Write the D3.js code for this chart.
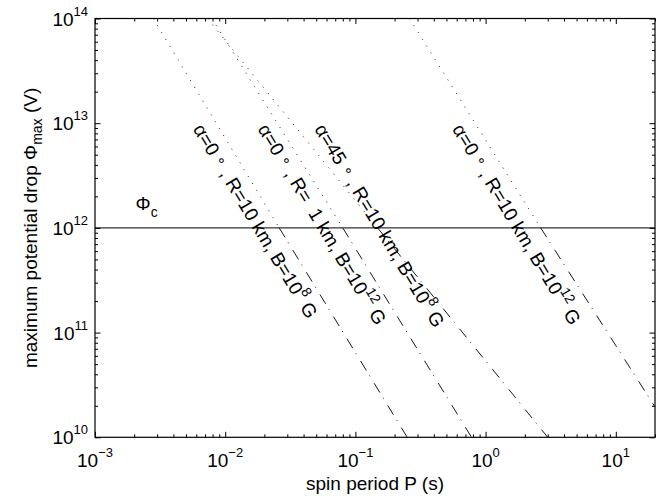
<!doctype html>
<html>
<head>
<meta charset="utf-8">
<title>potential drop</title>
<script src="https://d3js.org/d3.v7.min.js"></script>
<style>
  body { margin: 0; background: #fff; }
  text { font-family: "Liberation Sans", Arial, sans-serif; fill: #000; }
  .tick-label { font-size: 19px; }
  .axis-title { font-size: 19px; }
  .curve-label { font-size: 19px; white-space: pre; }
</style>
</head>
<body>
<script>

// axis ranges and ticks
var periodDomain = [1e-3, 20];
var phiDomain = [1e10, 1e14];
var periodTicks = [1e-3, 1e-2, 1e-1, 1, 10];
var periodExponents = ['\u22123', '\u22122', '\u22121', '0', '1'];
var phiTicks = [1e10, 1e11, 1e12, 1e13, 1e14];
var phiExponents = ['10', '11', '12', '13', '14'];

// critical potential drop
var phiCrit = 1e12;

// curves: period P (s) at given potential drops (V)
var periodA = [0.0028, 0.026, 0.25];   // alpha=0, R=10 km, B=1e8 G
var phiA    = [1e14, 1e12, 1e10];
var periodB = [0.0079, 0.080, 0.78];   // alpha=0, R=1 km, B=1e12 G
var phiB    = [1e14, 1e12, 1e10];
var periodC = [0.0073, 0.148, 3.0];    // alpha=45, R=10 km, B=1e8 G
var phiC    = [1e14, 1e12, 1e10];
var periodD = [0.26, 2.65, 20];        // alpha=0, R=10 km, B=1e12 G
var phiD    = [1e14, 1e12, 1.95e10];

// curve labels
var labelAlpha = ['0', '0', '45', '0'];
var labelR     = ['10', '  1', '10', '10'];
var labelB     = ['8', '12', '8', '12'];
var labelP     = [0.0056, 0.0176, 0.048, 0.55];
var labelPhi   = 8.8e12;

// canvas
var canvasWidth = 664, canvasHeight = 501;
var plotLeft = 95, plotRight = 655, plotTop = 18.5, plotBottom = 437.3;

var svg = d3.select('body').append('svg')
    .attr('width', canvasWidth)
    .attr('height', canvasHeight);

svg.append('rect').attr('width', canvasWidth).attr('height', canvasHeight).attr('fill', '#fff');

var x = d3.scaleLog().domain(periodDomain).range([plotLeft, plotRight]);
var y = d3.scaleLog().domain(phiDomain).range([plotBottom, plotTop]);

// minor tick values
var xMinor = [];
[1e-3, 1e-2, 1e-1, 1, 10].forEach(function(d) {
  for (var k = 2; k <= 9; k++) { if (d * k <= periodDomain[1]) xMinor.push(d * k); }
});
var yMinor = [];
[1e10, 1e11, 1e12, 1e13].forEach(function(d) {
  for (var k = 2; k <= 9; k++) yMinor.push(d * k);
});

function ticks(axis, values, size) {
  return axis.tickValues(values).tickSize(size).tickFormat('');
}

var axes = svg.append('g').attr('class', 'axes');
[[d3.axisBottom, 'translate(0,' + plotBottom + ')', x, xMinor, periodTicks],
 [d3.axisTop, 'translate(0,' + plotTop + ')', x, xMinor, periodTicks],
 [d3.axisLeft, 'translate(' + plotLeft + ',0)', y, yMinor, phiTicks],
 [d3.axisRight, 'translate(' + plotRight + ',0)', y, yMinor, phiTicks]].forEach(function(a) {
  var g1 = axes.append('g').attr('transform', a[1]).call(ticks(a[0](a[2]), a[4], -5.5));
  var g2 = axes.append('g').attr('transform', a[1]).call(ticks(a[0](a[2]), a[3], -3));
  [g1, g2].forEach(function(g) {
    g.select('.domain').remove();
    g.selectAll('line').attr('stroke', '#000').attr('stroke-width', 1);
  });
});

// box
svg.append('rect')
    .attr('x', plotLeft).attr('y', plotTop)
    .attr('width', plotRight - plotLeft).attr('height', plotBottom - plotTop)
    .attr('fill', 'none').attr('stroke', '#000').attr('stroke-width', 1.2);

// x tick labels
var xl = svg.append('g').selectAll('text').data(periodTicks).enter().append('text')
    .attr('class', 'tick-label')
    .attr('x', function(d) { return x(d); })
    .attr('y', plotBottom + 30)
    .attr('text-anchor', 'middle');
xl.append('tspan').text('10');
xl.append('tspan').attr('dy', -10).style('font-size', '13px')
    .text(function(d, i) { return periodExponents[i]; });

// y tick labels
var yl = svg.append('g').selectAll('text').data(phiTicks).enter().append('text')
    .attr('class', 'tick-label')
    .attr('x', plotLeft - 7)
    .attr('y', function(d) { return y(d) + 7; })
    .attr('text-anchor', 'end');
yl.append('tspan').text('10');
yl.append('tspan').attr('dy', -10).style('font-size', '13px')
    .text(function(d, i) { return phiExponents[i]; });

// axis titles
svg.append('text')
    .attr('class', 'axis-title')
    .attr('x', (plotLeft + plotRight) / 2)
    .attr('y', 490)
    .attr('text-anchor', 'middle')
    .text('spin period P (s)');

var yt = svg.append('text')
    .attr('class', 'axis-title')
    .attr('transform', 'translate(37,' + (plotTop + plotBottom) / 2 + ') rotate(-90)')
    .attr('text-anchor', 'middle');
yt.append('tspan').text('maximum potential drop \u03A6');
yt.append('tspan').attr('dy', 5).style('font-size', '14px').text('max');
yt.append('tspan').attr('dy', -5).text(' (V)');

// critical line
svg.append('line')
    .attr('x1', x(periodDomain[0])).attr('x2', x(periodDomain[1]))
    .attr('y1', y(phiCrit)).attr('y2', y(phiCrit))
    .attr('stroke', '#000').attr('stroke-width', 1);

var pc = svg.append('text')
    .attr('class', 'tick-label')
    .attr('x', x(0.00205))
    .attr('y', y(phiCrit) - 18);
pc.append('tspan').text('\u03A6');
pc.append('tspan').attr('dy', 7).style('font-size', '14px').text('c');

// curves: dotted above critical, dash-dot below
var line = d3.line()
    .x(function(d) { return x(d[0]); })
    .y(function(d) { return y(d[1]); });

var curves = [[periodA, phiA], [periodB, phiB], [periodC, phiC], [periodD, phiD]];
var plot = svg.append('g');
curves.forEach(function(c) {
  var pts = c[0].map(function(p, i) { return [p, c[1][i]]; });
  var above = pts.filter(function(d) { return d[1] >= phiCrit; });
  var below = pts.filter(function(d) { return d[1] <= phiCrit; });
  plot.append('path')
      .attr('d', line(above))
      .attr('fill', 'none')
      .attr('stroke', '#222')
      .attr('stroke-width', 1)
      .attr('stroke-dasharray', '1,7');
  plot.append('path')
      .attr('d', line(below))
      .attr('fill', 'none')
      .attr('stroke', '#000')
      .attr('stroke-width', 0.9)
      .attr('stroke-dasharray', '11,6,1,8');
});

// curve labels
labelP.forEach(function(p, i) {
  var t = svg.append('text')
      .attr('class', 'curve-label')
      .attr('transform', 'translate(' + x(p) + ',' + y(labelPhi) + ') rotate(59)');
  t.append('tspan').text('\u03B1=' + labelAlpha[i] + ' ');
  t.append('tspan').attr('dy', -4).style('font-size', '15px').text('\u2218');
  t.append('tspan').attr('dy', 4).text(' , R=' + labelR[i] + ' km, B=10');
  t.append('tspan').attr('dy', -9).style('font-size', '14px').text(labelB[i]);
  t.append('tspan').attr('dy', 9).text(' G');
});

</script>
</body>
</html>
